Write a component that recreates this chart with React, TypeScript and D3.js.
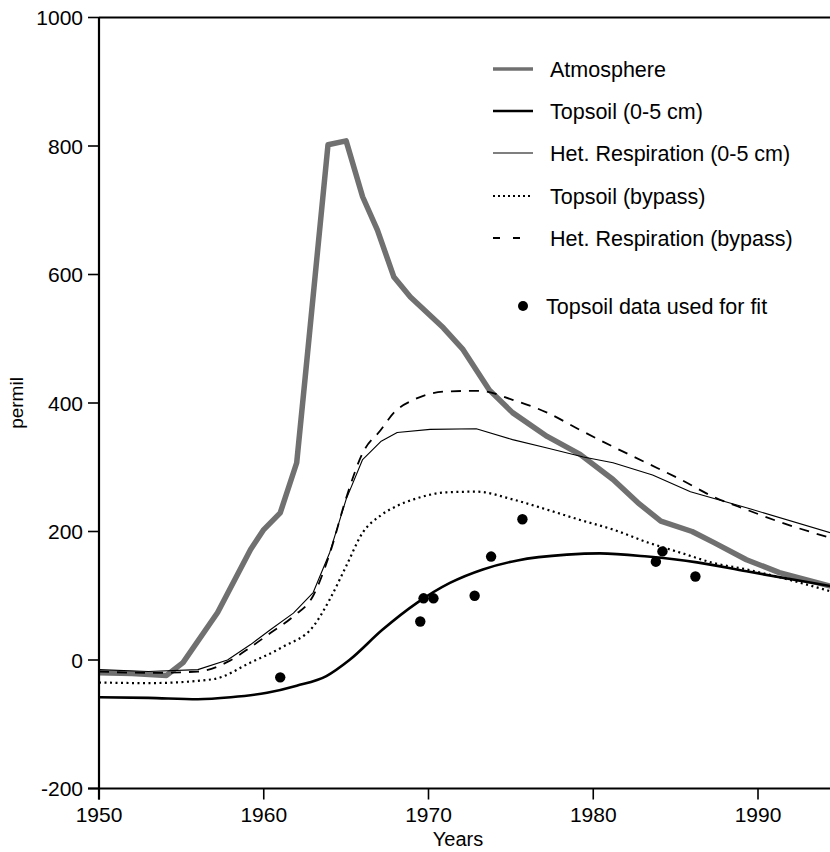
import React from "react";
import * as d3 from "d3";

const atmYears = [1950, 1952, 1954.1, 1955.1, 1957.2, 1959.2, 1960, 1961, 1962, 1962.5, 1963.9, 1965, 1966, 1966.9, 1967.9, 1968.9, 1970.9, 1972.1, 1973.7, 1975.1, 1977.2, 1979.2, 1981.2, 1982.7, 1984.1, 1986, 1987.3, 1989.3, 1991.3, 1994.4];
const atmValues = [-20, -21, -24, -4, 74, 172, 203, 229, 307, 436, 802, 808, 721, 669, 596, 565, 517, 483, 420, 385, 348, 320, 281, 245, 216, 200, 183, 156, 136, 115];

const topYears = [1950, 1953, 1956, 1958, 1960.2, 1962, 1963.8, 1965.2, 1967.2, 1969.3, 1971.3, 1973.3, 1975.4, 1978.4, 1980.4, 1983.3, 1986.3, 1989.3, 1994.4];
const topValues = [-58, -59, -61, -58, -51, -40, -25, 0, 47, 89, 120, 141, 155, 164, 166, 161, 152, 138, 115];

const hetYears = [1950, 1953, 1956, 1957.8, 1959.2, 1960.4, 1961.8, 1963, 1964, 1965, 1966, 1967.1, 1968.1, 1970.1, 1972.9, 1975.1, 1977.2, 1979.4, 1981.2, 1983.6, 1985.9, 1989.3, 1994.4];
const hetValues = [-15, -18, -15, 0, 24, 47, 73, 105, 167, 250, 312, 340, 354, 359, 360, 343, 330, 316, 307, 288, 262, 237, 198];

const topBypassYears = [1950, 1953, 1956.9, 1959.2, 1961.2, 1963, 1964, 1965, 1966, 1967.1, 1968.1, 1969.1, 1971.1, 1972.9, 1975.1, 1977.2, 1979.2, 1981.2, 1983.3, 1985.3, 1987.3, 1989.3, 1994.4];
const topBypassValues = [-35, -36, -30, -4, 21, 52, 94, 146, 198, 225, 240, 250, 261, 262, 250, 234, 218, 203, 183, 167, 151, 141, 107];

const hetBypassYears = [1950, 1953, 1956, 1957.8, 1959.2, 1960.4, 1961.8, 1963, 1964, 1965, 1966, 1967.1, 1967.9, 1969.1, 1971.1, 1973.1, 1975.1, 1977.2, 1979.2, 1981.2, 1983.3, 1985.3, 1987.3, 1989.3, 1991.3, 1994.4];
const hetBypassValues = [-18, -20, -18, -3, 20, 42, 68, 100, 165, 252, 322, 358, 385, 405, 418, 419, 405, 385, 358, 332, 306, 281, 254, 234, 215, 190];

const dataYears = [1961, 1969.5, 1969.7, 1970.3, 1972.8, 1973.8, 1975.7, 1983.8, 1984.2, 1986.2];
const dataValues = [-27, 60, 96, 96, 100, 161, 219, 153, 169, 130];

const xTicks = [1950, 1960, 1970, 1980, 1990];
const yTicks = [-200, 0, 200, 400, 600, 800, 1000];

const legendLabels = [
  "Atmosphere",
  "Topsoil (0-5 cm)",
  "Het. Respiration (0-5 cm)",
  "Topsoil (bypass)",
  "Het. Respiration (bypass)",
];
const dotLabel = "Topsoil data used for fit";

const W = 830;
const H = 852;
const FONT = "'Liberation Sans', Arial, Helvetica, sans-serif";

export default function App() {
  const x = d3.scaleLinear().domain([1950, 1994.37]).range([99, 830]);
  const y = d3.scaleLinear().domain([-200, 1000]).range([788.5, 17.5]);

  const mk = (ys: number[], vs: number[], curve: any) =>
    d3
      .line<number>()
      .x((_, i) => x(ys[i]))
      .y((v) => y(v))
      .curve(curve)(vs) || "";

  const styles = [
    { stroke: "#707070", width: 5.5, dash: undefined as string | undefined },
    { stroke: "#000", width: 2.6, dash: undefined },
    { stroke: "#000", width: 1.1, dash: undefined },
    { stroke: "#000", width: 2.2, dash: "2,3.5" },
    { stroke: "#000", width: 1.8, dash: "10,8" },
  ];

  const paths = [
    mk(atmYears, atmValues, d3.curveLinear),
    mk(topYears, topValues, d3.curveMonotoneX),
    mk(hetYears, hetValues, d3.curveLinear),
    mk(topBypassYears, topBypassValues, d3.curveMonotoneX),
    mk(hetBypassYears, hetBypassValues, d3.curveMonotoneX),
  ];

  const x0 = x(1950);
  const yTop = y(1000);
  const yBot = y(-200);
  const legendY = [69, 111, 153, 196, 238];
  const legendDash = [undefined, undefined, undefined, "2,3", "7,13"];

  return (
    <svg
      width={W}
      height={H}
      style={{ position: "absolute", left: 0, top: 0, background: "#fff" }}
      fontFamily={FONT}
    >
      <rect x={0} y={0} width={W} height={H} fill="#fff" />
      {paths.map((d, i) => (
        <path
          key={i}
          d={d}
          fill="none"
          stroke={styles[i].stroke}
          strokeWidth={styles[i].width}
          strokeDasharray={styles[i].dash}
          strokeLinejoin="round"
        />
      ))}
      {dataValues.map((v, i) => (
        <circle key={i} cx={x(dataYears[i])} cy={y(v)} r={5.2} fill="#000" />
      ))}
      <line x1={x0} x2={W} y1={yTop} y2={yTop} stroke="#000" strokeWidth={2} />
      <line x1={x0 - 11} x2={W} y1={yBot} y2={yBot} stroke="#000" strokeWidth={2} />
      <line x1={x0} x2={x0} y1={yTop} y2={yBot + 11} stroke="#000" strokeWidth={2.2} />
      {yTicks.map((t) => (
        <g key={t}>
          <line x1={x0 - 11} x2={x0} y1={y(t)} y2={y(t)} stroke="#000" strokeWidth={1.6} />
          <text x={x0 - 16} y={y(t)} dy="0.36em" textAnchor="end" fontSize={21}>
            {t}
          </text>
        </g>
      ))}
      {xTicks.map((t) => (
        <g key={t}>
          <line x1={x(t)} x2={x(t)} y1={yBot} y2={yBot + 11} stroke="#000" strokeWidth={1.6} />
          <text x={x(t)} y={822} textAnchor="middle" fontSize={21}>
            {t}
          </text>
        </g>
      ))}
      <text x={458} y={846} textAnchor="middle" fontSize={20}>
        Years
      </text>
      <text
        transform={`translate(23,403) rotate(-90)`}
        textAnchor="middle"
        fontSize={19}
      >
        permil
      </text>
      {legendLabels.map((lab, i) => (
        <g key={lab}>
          <line
            x1={493}
            x2={533}
            y1={legendY[i]}
            y2={legendY[i]}
            stroke={styles[i].stroke}
            strokeWidth={i === 0 ? 3.5 : i === 1 ? 2.4 : i === 2 ? 1.1 : 1.8}
            strokeDasharray={legendDash[i]}
          />
          <text x={550} y={legendY[i]} dy="0.36em" fontSize={21.5}>
            {lab}
          </text>
        </g>
      ))}
      <circle cx={523} cy={306} r={5} fill="#000" />
      <text x={546} y={306} dy="0.36em" fontSize={21.5}>
        {dotLabel}
      </text>
    </svg>
  );
}
